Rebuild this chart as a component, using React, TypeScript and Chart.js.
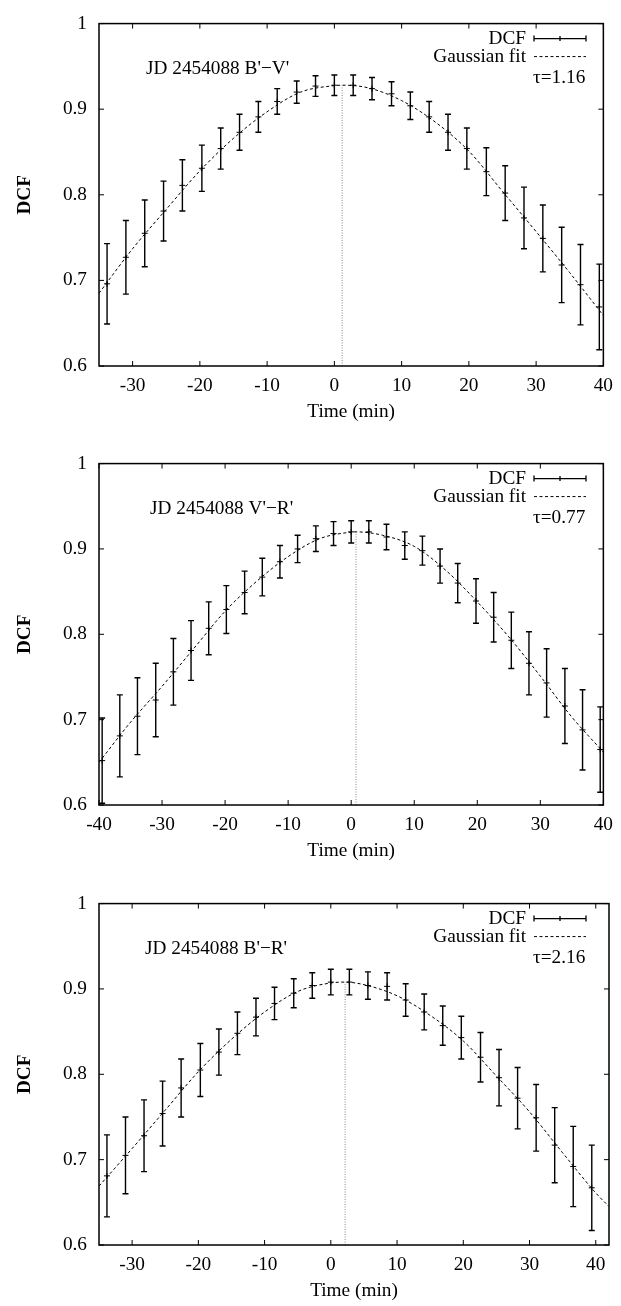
import React, { useEffect, useRef } from 'react';
import { Chart, registerables } from 'chart.js';

Chart.register(...registerables);

// ---------- data: panel 1 (B'-V') ----------
const time1 = [-33.8, -31.0, -28.2, -25.4, -22.6, -19.7, -16.9, -14.1, -11.3, -8.5, -5.6, -2.8, 0.0, 2.8, 5.6, 8.5, 11.3, 14.1, 16.9, 19.7, 22.6, 25.4, 28.2, 31.0, 33.8, 36.6, 39.4];
const dcf1 = [0.696, 0.727, 0.755, 0.781, 0.811, 0.831, 0.854, 0.873, 0.891, 0.909, 0.920, 0.927, 0.928, 0.928, 0.924, 0.918, 0.904, 0.891, 0.873, 0.854, 0.827, 0.802, 0.773, 0.749, 0.718, 0.695, 0.669];
const err1 = [0.047, 0.043, 0.039, 0.035, 0.030, 0.027, 0.024, 0.021, 0.018, 0.015, 0.013, 0.012, 0.012, 0.012, 0.013, 0.014, 0.016, 0.018, 0.021, 0.024, 0.028, 0.032, 0.036, 0.039, 0.044, 0.047, 0.050];
const fitTime1 = [-35, -30, -25, -20, -15, -10, -5, 0, 1.16, 5, 10, 15, 20, 25, 30, 35, 40];
const fitDcf1 = [0.685, 0.737, 0.783, 0.828, 0.866, 0.897, 0.920, 0.9275, 0.928, 0.925, 0.910, 0.885, 0.851, 0.804, 0.757, 0.709, 0.659];
const tau1 = 1.16;
const label1 = "JD 2454088 B'\u2212V'";

// ---------- data: panel 2 (V'-R') ----------
const time2 = [-39.5, -36.7, -33.9, -31.0, -28.2, -25.4, -22.6, -19.8, -16.9, -14.1, -11.3, -8.5, -5.6, -2.8, 0.0, 2.8, 5.6, 8.5, 11.3, 14.1, 16.9, 19.8, 22.6, 25.4, 28.2, 31.0, 33.9, 36.7, 39.5];
const dcf2 = [0.652, 0.681, 0.704, 0.723, 0.756, 0.781, 0.807, 0.829, 0.849, 0.867, 0.885, 0.900, 0.912, 0.918, 0.920, 0.920, 0.914, 0.904, 0.898, 0.880, 0.860, 0.839, 0.820, 0.793, 0.766, 0.743, 0.716, 0.688, 0.665];
const err2 = [0.050, 0.048, 0.045, 0.043, 0.039, 0.035, 0.031, 0.028, 0.025, 0.022, 0.019, 0.016, 0.015, 0.014, 0.013, 0.013, 0.015, 0.016, 0.017, 0.020, 0.023, 0.026, 0.029, 0.033, 0.037, 0.040, 0.044, 0.047, 0.050];
const fitTime2 = [-40, -35, -30, -25, -20, -15, -10, -5, 0, 0.77, 5, 10, 15, 20, 25, 30, 35, 40];
const fitDcf2 = [0.650, 0.697, 0.739, 0.783, 0.827, 0.862, 0.891, 0.912, 0.9197, 0.920, 0.916, 0.903, 0.875, 0.838, 0.797, 0.751, 0.703, 0.662];
const tau2 = 0.77;
const label2 = "JD 2454088 V'\u2212R'";

// ---------- data: panel 3 (B'-R') ----------
const time3 = [-33.8, -31.0, -28.2, -25.4, -22.6, -19.7, -16.9, -14.1, -11.3, -8.5, -5.6, -2.8, 0.0, 2.8, 5.6, 8.5, 11.3, 14.1, 16.9, 19.7, 22.6, 25.4, 28.2, 31.0, 33.8, 36.6, 39.4];
const dcf3 = [0.681, 0.705, 0.728, 0.754, 0.784, 0.805, 0.826, 0.848, 0.867, 0.883, 0.895, 0.904, 0.908, 0.908, 0.904, 0.903, 0.887, 0.873, 0.857, 0.843, 0.820, 0.796, 0.772, 0.749, 0.717, 0.692, 0.667];
const err3 = [0.048, 0.045, 0.042, 0.038, 0.034, 0.031, 0.027, 0.025, 0.022, 0.019, 0.017, 0.015, 0.015, 0.015, 0.016, 0.016, 0.019, 0.021, 0.023, 0.025, 0.029, 0.033, 0.036, 0.039, 0.044, 0.047, 0.050];
const fitTime3 = [-35, -30, -25, -20, -15, -10, -5, 0, 2.16, 5, 10, 15, 20, 25, 30, 35, 40, 42];
const fitDcf3 = [0.669, 0.713, 0.758, 0.803, 0.841, 0.873, 0.897, 0.907, 0.908, 0.905, 0.892, 0.869, 0.839, 0.798, 0.756, 0.708, 0.661, 0.645];
const tau3 = 2.16;
const label3 = "JD 2454088 B'\u2212R'";

const legendDcf = 'DCF';
const legendFit = 'Gaussian fit';
const yTitle = 'DCF';
const xTitle = 'Time (min)';

// ---------- layout / style ----------
const FONT = '"Liberation Serif", "Times New Roman", Times, serif';
const FS = 19.3;
const W = 621;

type Panel = {
  xs: number[]; ys: number[]; es: number[]; fx: number[]; fy: number[];
  tau: number; label: string; xmin: number; xmax: number;
  top: number; height: number; chartTop: number; chartBottom: number; labelX: number;
};

const PANELS: Panel[] = [
  { xs: time1, ys: dcf1, es: err1, fx: fitTime1, fy: fitDcf1, tau: tau1, label: label1, xmin: -35, xmax: 40, top: 0, height: 440, chartTop: 10, chartBottom: 366, labelX: 146 },
  { xs: time2, ys: dcf2, es: err2, fx: fitTime2, fy: fitDcf2, tau: tau2, label: label2, xmin: -40, xmax: 40, top: 440, height: 440, chartTop: 9, chartBottom: 365, labelX: 150 },
  { xs: time3, ys: dcf3, es: err3, fx: fitTime3, fy: fitDcf3, tau: tau3, label: label3, xmin: -35, xmax: 42, top: 880, height: 426, chartTop: 9, chartBottom: 365, labelX: 145 },
];

function peakOf(p: Panel) {
  let m = -Infinity;
  p.fy.forEach(v => { if (v > m) m = v; });
  return m;
}

function overlay(p: Panel) {
  return {
    id: 'overlay',
    afterDatasetsDraw(chart: any) {
      const { ctx, chartArea: a, scales } = chart;
      const x = scales.x, y = scales.y;
      ctx.save();
      // error bars
      ctx.strokeStyle = '#000';
      ctx.lineWidth = 1.4;
      const CAP = 3;
      p.xs.forEach((xv, i) => {
        const px = x.getPixelForValue(xv);
        const t = y.getPixelForValue(Math.min(p.ys[i] + p.es[i], 1));
        const b = y.getPixelForValue(Math.max(p.ys[i] - p.es[i], 0.6));
        ctx.beginPath();
        ctx.moveTo(px, t); ctx.lineTo(px, b);
        ctx.moveTo(px - CAP, t); ctx.lineTo(px + CAP, t);
        ctx.moveTo(px - CAP, b); ctx.lineTo(px + CAP, b);
        ctx.stroke();
      });
      // frame
      ctx.lineWidth = 1.5;
      ctx.strokeRect(a.left, a.top, a.right - a.left, a.bottom - a.top);
      // inward ticks
      ctx.lineWidth = 1;
      ctx.beginPath();
      x.ticks.forEach((t: any) => {
        const px = x.getPixelForValue(t.value);
        ctx.moveTo(px, a.bottom); ctx.lineTo(px, a.bottom - 5);
        ctx.moveTo(px, a.top); ctx.lineTo(px, a.top + 5);
      });
      y.ticks.forEach((t: any) => {
        const py = y.getPixelForValue(t.value);
        ctx.moveTo(a.left, py); ctx.lineTo(a.left + 5, py);
        ctx.moveTo(a.right, py); ctx.lineTo(a.right - 5, py);
      });
      ctx.stroke();
      // legend
      ctx.fillStyle = '#000';
      ctx.font = `${FS}px ${FONT}`;
      ctx.textBaseline = 'middle';
      ctx.textAlign = 'right';
      const ly1 = a.top + 15, ly2 = a.top + 33, ly3 = a.top + 54;
      ctx.fillText(legendDcf, 526, ly1);
      ctx.fillText(legendFit, 526, ly2);
      ctx.lineWidth = 1.3;
      ctx.beginPath();
      ctx.moveTo(534, ly1); ctx.lineTo(586, ly1);
      ctx.moveTo(534, ly1 - 3); ctx.lineTo(534, ly1 + 3);
      ctx.moveTo(586, ly1 - 3); ctx.lineTo(586, ly1 + 3);
      ctx.moveTo(560, ly1 - 2.5); ctx.lineTo(560, ly1 + 2.5);
      ctx.stroke();
      ctx.lineWidth = 1;
      ctx.setLineDash([3, 2.5]);
      ctx.beginPath();
      ctx.moveTo(534, ly2); ctx.lineTo(586, ly2);
      ctx.stroke();
      ctx.setLineDash([]);
      ctx.textAlign = 'left';
      ctx.fillText('\u03c4=' + p.tau.toFixed(2), 533, ly3);
      // annotation
      ctx.fillText(p.label, p.labelX, a.top + 45);
      // axis titles
      ctx.textAlign = 'center';
      ctx.fillText(xTitle, (a.left + a.right) / 2, a.bottom + 46);
      ctx.save();
      ctx.translate(25, (a.top + a.bottom) / 2);
      ctx.rotate(-Math.PI / 2);
      ctx.font = `bold ${FS}px ${FONT}`;
      ctx.fillText(yTitle, 0, 0);
      ctx.restore();
      ctx.restore();
    },
  };
}

function PanelChart({ p }: { p: Panel }) {
  const ref = useRef<HTMLCanvasElement | null>(null);
  useEffect(() => {
    const peak = peakOf(p);
    const chart = new Chart(ref.current as HTMLCanvasElement, {
      type: 'scatter',
      data: {
        datasets: [
          {
            data: p.fx.map((v, i) => ({ x: v, y: p.fy[i] })),
            showLine: true,
            borderColor: '#000',
            borderWidth: 1,
            borderDash: [3, 2.5],
            pointRadius: 0,
            cubicInterpolationMode: 'monotone',
            fill: false,
          } as any,
          {
            data: [{ x: p.tau, y: 0.6 }, { x: p.tau, y: peak }],
            showLine: true,
            borderColor: '#888',
            borderWidth: 1,
            borderDash: [1, 1.5],
            pointRadius: 0,
            fill: false,
          } as any,
          {
            data: p.xs.map((v, i) => ({ x: v, y: p.ys[i] })),
            showLine: false,
            pointStyle: 'cross',
            pointRadius: 3,
            borderColor: '#000',
            borderWidth: 1,
            backgroundColor: '#000',
          } as any,
        ],
      },
      options: {
        responsive: false,
        animation: false,
        devicePixelRatio: 1,
        layout: { padding: { top: p.chartTop, right: 12, left: 0, bottom: 0 } },
        plugins: { legend: { display: false }, tooltip: { enabled: false } },
        scales: {
          x: {
            type: 'linear',
            min: p.xmin,
            max: p.xmax,
            grid: { display: false, drawTicks: false },
            border: { display: false },
            ticks: {
              stepSize: 10,
              includeBounds: false,
              autoSkip: false,
              maxRotation: 0,
              padding: 8,
              color: '#000',
              font: { family: FONT, size: FS },
              callback: (v: any) => String(v),
            },
            afterFit: (s: any) => { s.height = p.height - p.chartBottom; },
          },
          y: {
            type: 'linear',
            min: 0.6,
            max: 1,
            grid: { display: false, drawTicks: false },
            border: { display: false },
            ticks: {
              stepSize: 0.1,
              includeBounds: false,
              padding: 12,
              color: '#000',
              font: { family: FONT, size: FS },
              callback: (v: any) => String(Math.round(Number(v) * 10) / 10),
            },
            afterFit: (s: any) => { s.width = 99; },
          },
        },
      } as any,
      plugins: [overlay(p)],
    });
    return () => chart.destroy();
  }, [p]);
  return (
    <canvas
      ref={ref}
      width={W}
      height={p.height}
      style={{ position: 'absolute', left: 0, top: p.top, width: W, height: p.height, display: 'block' }}
    />
  );
}

export default function App() {
  return (
    <div style={{ position: 'absolute', left: 0, top: 0, width: W, height: 1306, background: '#fff' }}>
      {PANELS.map((p, i) => <PanelChart key={i} p={p} />)}
    </div>
  );
}
